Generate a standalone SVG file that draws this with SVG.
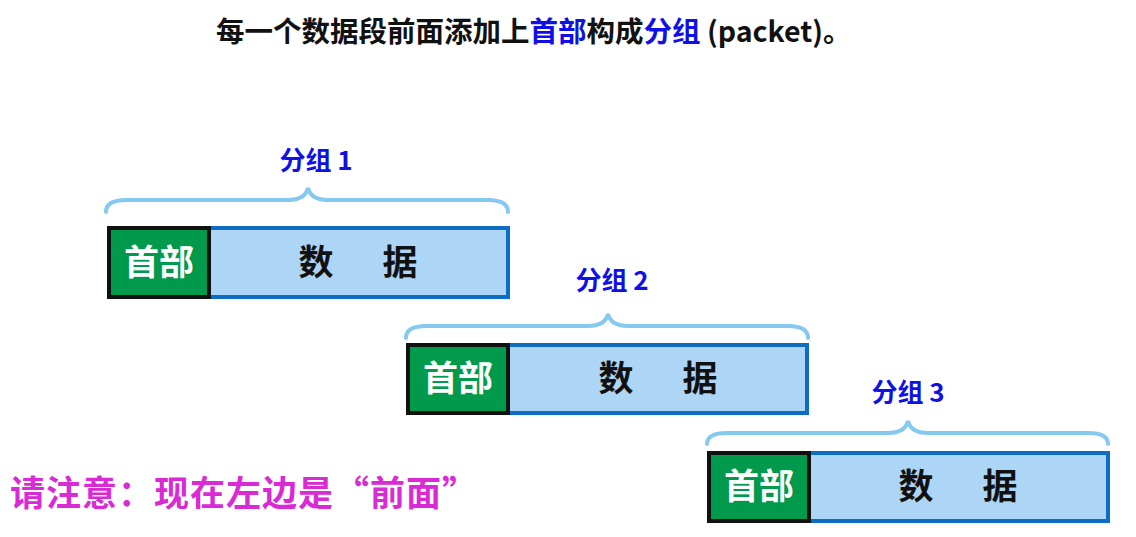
<svg xmlns="http://www.w3.org/2000/svg" width="1136" height="537" viewBox="0 0 1136 537">
<style>
.bg{fill:#ffffff}
.title{font-family:"Noto Sans CJK SC","Noto Sans",sans-serif;font-weight:bold;font-size:28.5px;fill:#111111}
.blue{fill:#1010e6}
.lbl{font-family:"Noto Sans CJK SC","Noto Sans",sans-serif;font-weight:bold;font-size:26px;fill:#1010e6;text-anchor:middle}
.hdr{fill:#019a4c;stroke:#111111;stroke-width:4}
.dat{fill:#acd5f6;stroke:#0d6cc4;stroke-width:4}
.htxt{font-family:"Noto Sans CJK SC",sans-serif;font-weight:bold;font-size:35px;fill:#ffffff;text-anchor:middle}
.dtxt{font-family:"Noto Sans CJK SC",sans-serif;font-weight:bold;font-size:35px;fill:#111111;text-anchor:middle}
.brace{fill:none;stroke:#86c9f0;stroke-width:4;stroke-linecap:round}
.note{font-family:"Noto Sans CJK SC",sans-serif;font-weight:bold;font-size:35px;letter-spacing:1px;fill:#d92ad6}
</style>
<rect class="bg" x="0" y="0" width="1136" height="537"/>
<text class="title" x="216" y="42">每一个数据段前面添加上<tspan class="blue">首部</tspan>构成<tspan class="blue">分组</tspan> (packet)。</text>
<g id="packet1">
<path class="brace" d="M106,212 Q106,200 126,200 L288,200 Q305,200 308,188 Q311,200 328,200 L488,200 Q508,200 508,212"/>
<text class="lbl" x="316" y="170">分组 1</text>
<rect class="dat" x="209" y="228" width="299" height="69"/>
<rect class="hdr" x="109" y="228" width="100" height="69"/>
<text class="htxt" x="159" y="275">首部</text>
<text class="dtxt" y="275"><tspan x="316">数</tspan><tspan x="400">据</tspan></text>
</g>
<g id="packet2">
<path class="brace" d="M406,338 Q406,326 426,326 L588,326 Q605,326 608,314 Q611,326 628,326 L788,326 Q808,326 808,338"/>
<text class="lbl" x="612" y="290">分组 2</text>
<rect class="dat" x="508" y="345" width="299" height="68"/>
<rect class="hdr" x="408" y="345" width="100" height="68"/>
<text class="htxt" x="458" y="391">首部</text>
<text class="dtxt" y="391"><tspan x="616">数</tspan><tspan x="700">据</tspan></text>
</g>
<g id="packet3">
<path class="brace" d="M707,444 Q707,433 727,433 L888,433 Q905,433 908,421 Q911,433 928,433 L1088,433 Q1108,433 1108,444"/>
<text class="lbl" x="908" y="402">分组 3</text>
<rect class="dat" x="809" y="453" width="299" height="68"/>
<rect class="hdr" x="709" y="453" width="100" height="68"/>
<text class="htxt" x="759" y="499">首部</text>
<text class="dtxt" y="499"><tspan x="916">数</tspan><tspan x="1000">据</tspan></text>
</g>
<g id="connectors"></g>
<text class="note" x="10" y="506">请注意：现在左边是“前面”</text>
</svg>
